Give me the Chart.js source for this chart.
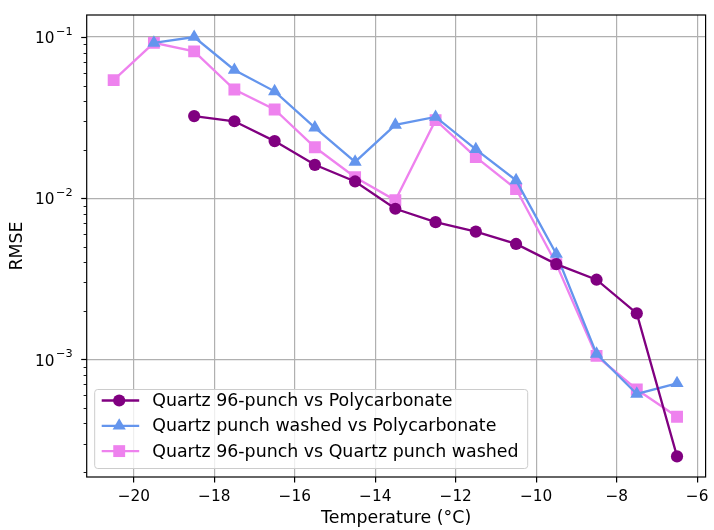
<!DOCTYPE html>
<html><head><meta charset="utf-8">
<script src="https://cdn.jsdelivr.net/npm/chart.js@4/dist/chart.umd.min.js"></script>
<style>html,body{margin:0;padding:0;background:#fff;}</style>
</head><body>
<canvas id="c" width="714" height="530" style="width:714px;height:530px;display:block"></canvas>
<script>
// ---- data ----
const seriesLabels = [
  'Quartz 96-punch vs Polycarbonate',
  'Quartz punch washed vs Polycarbonate',
  'Quartz 96-punch vs Quartz punch washed'
];
const temps1 = [-18.5,-17.5,-16.5,-15.5,-14.5,-13.5,-12.5,-11.5,-10.5,-9.5,-8.5,-7.5,-6.5];
const quartz96VsPoly = [0.0323,0.0300,0.0226,0.0161,0.0127,0.0086,0.0071,0.0062,0.0052,0.0039,0.00312,0.00193,0.00025];
const temps2 = [-19.5,-18.5,-17.5,-16.5,-15.5,-14.5,-13.5,-12.5,-11.5,-10.5,-9.5,-8.5,-7.5,-6.5];
const washedVsPoly = [0.092,0.100,0.0624,0.0460,0.0274,0.0168,0.0285,0.0319,0.0201,0.0129,0.0045,0.00108,0.00061,0.00071];
const temps3 = [-20.5,-19.5,-18.5,-17.5,-16.5,-15.5,-14.5,-13.5,-12.5,-11.5,-10.5,-9.5,-8.5,-7.5,-6.5];
const quartz96VsWashed = [0.054,0.092,0.0815,0.0472,0.0355,0.0207,0.0135,0.0097,0.0305,0.0180,0.0114,0.0039,0.00105,0.00065,0.00044];
const xTicks = [-20,-18,-16,-14,-12,-10,-8,-6];
const yMajorTicks = [1e-3,1e-2,1e-1];
const yTickBase = '10';
const yTickExps = ['\u22123','\u22122','\u22121'];
const xTitle = 'Temperature (\u00B0C)';
const yTitle = 'RMSE';

const FONT = "'DejaVu Sans', sans-serif";
const colors = ['#800080','#6495ED','#EE82EE'];
const styles = ['circle','triangle','rect'];
const radii = [6.1,7.6,8.4];

function pts(xs, ys){ return xs.map((x,i)=>({x:x,y:ys[i]})); }
const datasets = [[temps1,quartz96VsPoly],[temps2,washedVsPoly],[temps3,quartz96VsWashed]].map((d,i)=>({
  label: seriesLabels[i],
  data: pts(d[0],d[1]),
  borderColor: colors[i], backgroundColor: colors[i],
  borderWidth: 2.3, pointStyle: styles[i], pointRadius: radii[i], pointHoverRadius: radii[i],
  pointBorderWidth: 0, tension: 0, fill: false
}));

const YMIN = Math.pow(10,-3.730), YMAX = Math.pow(10,-0.8635);

const framePlugin = {
  id: 'frame',
  afterDatasetsDraw(chart){
    const {ctx, chartArea:a} = chart;
    const ys = chart.scales.y;
    ctx.save();
    ctx.strokeStyle = '#000';
    ys.ticks.forEach(t=>{
      const py = Math.round(ys.getPixelForValue(t.value))+0.5;
      const len = t.major ? 5.5 : 3.1;
      ctx.lineWidth = t.major ? 1.2 : 0.9;
      ctx.beginPath(); ctx.moveTo(a.left-len, py); ctx.lineTo(a.left, py); ctx.stroke();
    });
    // y tick labels 10^n with superscript
    ctx.fillStyle = '#000'; ctx.textBaseline = 'alphabetic';
    yMajorTicks.forEach((v,i)=>{
      const py = ys.getPixelForValue(v);
      const right = a.left - 14;
      ctx.font = '11.3px ' + FONT; ctx.textAlign = 'right';
      const ew = ctx.measureText(yTickExps[i]).width;
      ctx.fillText(yTickExps[i], right, py - 2);
      ctx.font = '15.3px ' + FONT;
      ctx.fillText(yTickBase, right - ew - 1.5, py + 6.3);
    });
    ctx.lineWidth = 1.2;
    ctx.strokeRect(a.left, a.top, a.right-a.left, a.bottom-a.top);
    ctx.restore();
  }
};

const legendPlugin = {
  id:'legendBox',
  afterDraw(chart){
    const {ctx, chartArea:a} = chart;
    const x0 = a.left + 7.5, w = 433, h = 79, y0 = a.bottom - 9 - h;
    ctx.save();
    ctx.beginPath();
    if (ctx.roundRect) ctx.roundRect(x0+0.5, y0+0.5, w, h, 3); else ctx.rect(x0+0.5,y0+0.5,w,h);
    ctx.fillStyle = 'rgba(255,255,255,0.8)'; ctx.fill();
    ctx.strokeStyle = '#cccccc'; ctx.lineWidth = 1; ctx.stroke();
    ctx.font = '17.4px ' + FONT; ctx.textBaseline = 'middle'; ctx.textAlign = 'left';
    chart.data.datasets.forEach((ds,i)=>{
      const cy = y0 + 11.5 + i*25.3;
      ctx.strokeStyle = ds.borderColor; ctx.lineWidth = ds.borderWidth;
      ctx.beginPath(); ctx.moveTo(x0+7.5, cy); ctx.lineTo(x0+45, cy); ctx.stroke();
      ctx.fillStyle = ds.backgroundColor;
      Chart.helpers.drawPoint(ctx, {pointStyle: ds.pointStyle, radius: ds.pointRadius, rotation:0, borderWidth:0}, x0+25, cy);
      ctx.fillStyle = '#000';
      ctx.fillText(ds.label, x0+58, cy+1);
    });
    ctx.restore();
  }
};

new Chart(document.getElementById('c'), {
  type: 'line',
  data: { datasets },
  options: {
    responsive: false, animation: false, devicePixelRatio: 1,
    layout: { padding: { top: 15, right: 7, left: 0, bottom: 0 } },
    plugins: { legend: { display: false }, tooltip: { enabled: false } },
    scales: {
      x: {
        type: 'linear', min: -21.17, max: -5.79,
        afterFit(s){ s.height = 53; s.paddingLeft = 0; s.paddingRight = 0; },
        afterBuildTicks(s){ s.ticks = xTicks.map(v=>({value:v})); },
        grid: { color: '#b0b0b0', lineWidth: 1.2, drawTicks: true, tickLength: 5.5, tickColor: '#000', tickWidth: 1.2 },
        border: { display: false },
        ticks: { color: '#000', font: { family: FONT, size: 15.3 }, padding: 5.5, maxRotation: 0,
          callback: v => (v<0 ? '\u2212' : '') + Math.abs(v) },
        title: { display: true, text: xTitle, color: '#000', font: { family: FONT, size: 17.4 }, padding: { top: 0, bottom: 1.5 } }
      },
      y: {
        type: 'logarithmic', min: YMIN, max: YMAX,
        afterFit(s){ s.width = 86.7; s.paddingTop = 0; s.paddingBottom = 0; },
        afterBuildTicks(s){
          const out = [];
          [1e-4].concat(yMajorTicks).forEach(dec=>{
            for (let m=1;m<=9;m++){
              const v = dec*m;
              if (v>=YMIN && v<=YMAX) out.push({value:v, major: m===1});
            }
          });
          s.ticks = out;
        },
        grid: { color: c => (c.tick && c.tick.major) ? '#b0b0b0' : 'rgba(0,0,0,0)', lineWidth: 1.2, drawTicks: false },
        border: { display: false },
        ticks: { display: true, color: 'rgba(0,0,0,0)', font: { family: FONT, size: 15.3 }, padding: 9, autoSkip: false,
          callback: () => '' },
        title: { display: true, text: yTitle, color: '#000', font: { family: FONT, size: 17.4 }, padding: { top: 7, bottom: 0 } }
      }
    }
  },
  plugins: [framePlugin, legendPlugin]
});
</script>
</body></html>
